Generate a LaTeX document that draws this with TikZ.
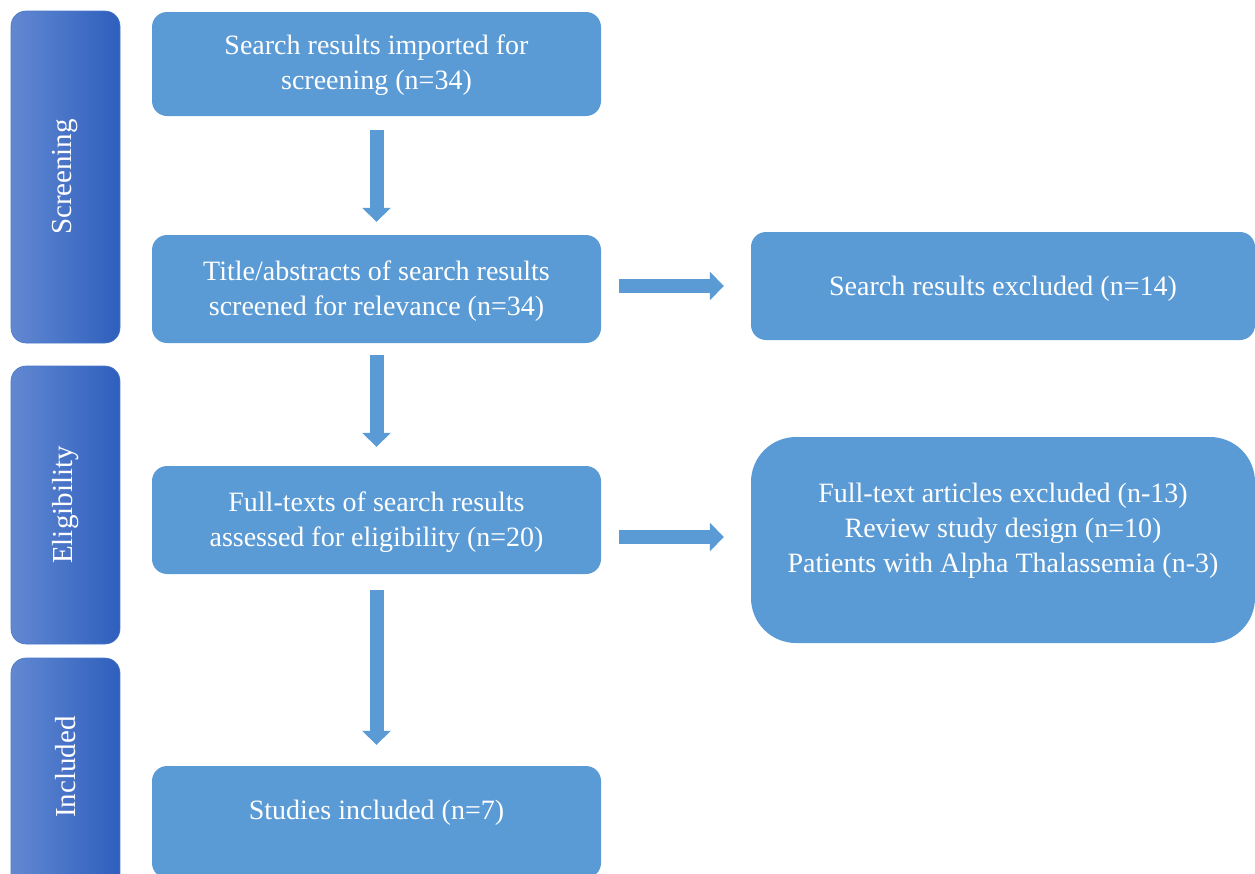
\documentclass[tikz,border=0pt]{standalone}
\usepackage{fontspec}
\setmainfont{Liberation Serif}
\usetikzlibrary{arrows.meta}
\definecolor{boxblue}{HTML}{5B9BD5}
\definecolor{barleft}{HTML}{6288D1}
\definecolor{barright}{HTML}{2E5FBD}
\definecolor{barline}{HTML}{4A78C8}
\begin{document}
\begin{tikzpicture}[x=1pt,y=-1pt,
  box/.style={fill=boxblue,rounded corners=15pt,text=white,align=center,
    font=\fontsize{28}{35}\selectfont,inner sep=0pt},
  bar/.style={left color=barleft,right color=barright,draw=barline,line width=0.6pt,
    rounded corners=15pt,minimum width=109pt,inner sep=0pt},
  barlabel/.style={text=white,rotate=90,font=\fontsize{29}{32}\selectfont},
  blockarrow/.style={draw=boxblue,line width=14pt,-{Triangle[length=14pt,width=28pt]}}]
\useasboundingbox (0,0) rectangle (1255,873);
% phase bars
\node[bar,minimum height=332pt] (scr) at (65.5,177) {};
\node[bar,minimum height=278pt] (eli) at (65.5,505) {};
\node[bar,minimum height=232pt] (inc) at (65.5,774) {};
\node[barlabel] (scrt) at (scr.center) {Screening};
\node[barlabel] (elit) at (eli.center) {Eligibility};
\node[barlabel] (inct) at (65.5,767) {Included};
% main boxes
\node[box,minimum width=449pt,minimum height=104pt] (b1) at (376.5,64) {};
\node[box] (b1t) at (376.5,65) {Search results imported for\\screening (n=34)};
\node[box,minimum width=449pt,minimum height=108pt] (b2) at (376.5,289) {};
\node[box] (b2t) at (376.5,291) {Title/abstracts of search results\\screened for relevance (n=34)};
\node[box,minimum width=449pt,minimum height=108pt] (b3) at (376.5,520) {};
\node[box] (b3t) at (376.5,522) {Full-texts of search results\\assessed for eligibility (n=20)};
\node[box,minimum width=449pt,minimum height=112pt] (b4) at (376.5,822) {};
\node[box] (b4t) at (376.5,813) {Studies included (n=7)};
% right boxes
\node[box,minimum width=504pt,minimum height=108pt] (r1) at (1003,286) {};
\node[box] (r1t) at (1003,289) {Search results excluded (n=14)};
\node[box,minimum width=504pt,minimum height=206pt,rounded corners=45pt] (r2) at (1003,540) {};
\node[box] (r2t) at (1003,531) {Full-text articles excluded (n-13)\\Review study design (n=10)\\Patients with Alpha Thalassemia (n-3)};
% arrows
\draw[blockarrow,shorten <=14pt,shorten >=13pt] (b1.south) -- (b2.north);
\draw[blockarrow,shorten <=12pt,shorten >=19pt] (b2.south) -- (b3.north);
\draw[blockarrow,shorten <=16pt,shorten >=21pt] (b3.south) -- (b4.north);
\draw[blockarrow,shorten <=18pt,shorten >=27pt] (b2.east|-r1.center) -- (r1.west);
\draw[blockarrow,shorten <=18pt,shorten >=27pt] (b3.east|-r2.center) ++(0,-3) coordinate (a5) (a5) -- (r2.west|-a5);
\end{tikzpicture}
\end{document}
